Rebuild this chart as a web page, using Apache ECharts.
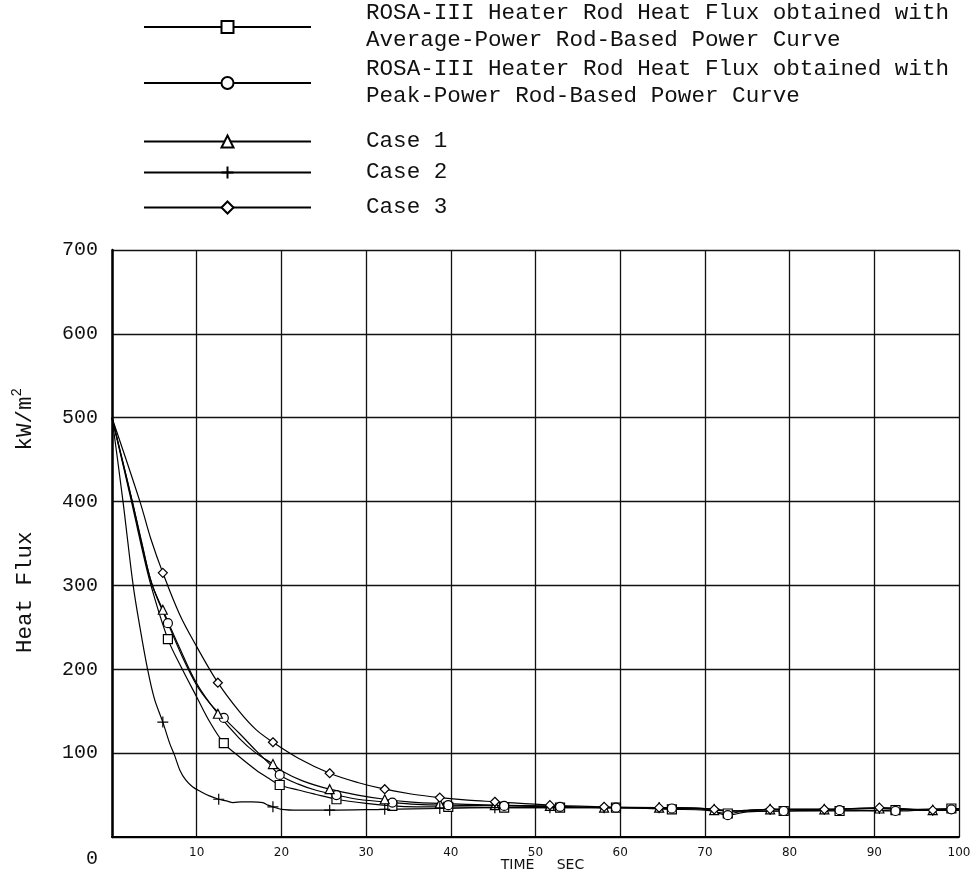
<!DOCTYPE html>
<html><head><meta charset="utf-8">
<script src="https://cdn.jsdelivr.net/npm/echarts@6/dist/echarts.min.js"></script>
<style>html,body{margin:0;padding:0;background:#fff}#c{width:974px;height:874px}</style>
</head><body><div id="c"></div>
<script>
const seriesNames = [
  'ROSA-III Heater Rod Heat Flux obtained with\nAverage-Power Rod-Based Power Curve',
  'ROSA-III Heater Rod Heat Flux obtained with\nPeak-Power Rod-Based Power Curve',
  'Case 1',
  'Case 2',
  'Case 3'
];
const xLabelName = 'TIME     SEC';
const yLabelMain = 'Heat Flux      kW/m';
const yLabelSup = '2';

// Average-power rod (squares)
const avgX = [0,2.3,3.4,4.6,6.6,8.3,10,11.5,13.2,15,17,18.5,19.8,22,24,26.5,30,33.1,36,39.7,46.3,52.9,59.5,66.1,70,72.7,75,79.3,85.9,92.5,99.1,100];
const avgY = [500,400,350,300,236,200,167,138,112,96,80,70,62,56,51,45,40,37,36,36,35,35,35,33,32,28,31,31,31,32,34,34];
// Peak-power rod (circles)
const peakX = [0,2.4,3.5,4.7,6.6,8.3,10,11.5,13.2,15,17,18.5,19.8,22,24,26.5,29,33.1,36,39.7,46.3,52.9,59.5,66.1,70,72.7,75,79.3,85.9,92.5,99.1,100];
const peakY = [500,400,352,302,255,215,181,160,142,124,103,88,74,63,56,50,45,41,39,38,37,36,35,34,33,26,30,31,32,31,33,33];
const rosaMarks = [6.6,13.2,19.8,26.5,33.1,39.7,46.3,52.9,59.5,66.1,72.7,79.3,85.9,92.5,99.1];

// Case 1 (triangles)
const c1X = [0,2.4,3.5,4.7,6.0,8,10,12.5,15,17,19.0,20,22.5,25.7,29,32.2,35,38.7,45.2,51.7,58.1,64.6,70,71.1,74,77.7,84.1,90.6,96.9,100];
const c1Y = [500,400,350,302,271,225,183,147,118,100,87,79,67,57,50,45,42,40,38,37,35,35,34,32,31,33,33,34,32,32];
// Case 2 (plus)
const c2X = [0,1.3,2.5,3.3,4.2,5.0,6.0,6.8,7.4,8.0,8.7,9.5,10.5,11.5,12.6,13.5,14.3,15.3,16.5,17.8,18.4,19.0,20,22,25.7,32.2,38.7,45.2,51.7,58.1,64.6,70,71.1,73,77.7,84.1,90.6,96.9,100];
const c2Y = [500,400,300,250,200,165,137,112,97,80,68,60,54,49,45,43,41,42,42,41,38,36,33,32,32,33,34,35,35,35,35,34,33,31,33,33,34,32,32];
// Case 3 (diamonds)
const c3X = [0,3.3,4.6,6.0,8,10,12.5,15,17,19.0,22,25.7,29,32.2,35.5,38.7,42,45.2,51.7,58.1,64.6,70,71.1,74,77.7,84.1,90.6,96.9,100];
const c3Y = [500,400,355,315,265,227,184,150,128,113,94,76,65,57,51,47,44,42,38,36,35,34,33,31,33,33,35,32,32];
const caseMarks = [6.0,12.5,19.0,25.7,32.2,38.7,45.2,51.7,58.1,64.6,71.1,77.7,84.1,90.6,96.9];
const case2Marks = [6.0,12.6,19.0,25.7,32.2,38.7,45.2,51.7,58.1,64.6,71.1,77.7,84.1,90.6,96.9];

function build(xs, ys, marks) {
  return xs.map((x, i) => {
    const m = marks.some(v => Math.abs(v - x) < 1e-6);
    return m ? { value: [x, ys[i]] } : { value: [x, ys[i]], symbol: 'none' };
  });
}

const plusPath = 'path://M5,0L5,10M0,5L10,5';
const symbols = ['rect', 'circle', 'triangle', plusPath, 'diamond'];
const dataSets = [
  build(avgX, avgY, rosaMarks),
  build(peakX, peakY, rosaMarks),
  build(c1X, c1Y, caseMarks),
  build(c2X, c2Y, case2Marks),
  build(c3X, c3Y, caseMarks)
];

const series = seriesNames.map((n, i) => ({
  name: n,
  type: 'line',
  data: dataSets[i],
  symbol: symbols[i],
  symbolSize: i === 3 ? 11 : 9,
  smooth: 0.35,
  lineStyle: { color: '#000', width: 1.2 },
  itemStyle: { color: i === 3 ? '#000' : '#fff', borderColor: '#000', borderWidth: 1.2 },
  emphasis: { disabled: true },
  animation: false
}));

const legendTops = [0, 56, 128, 159, 194];
const legends = seriesNames.map((n, i) => ({
  data: [n],
  orient: 'vertical',
  left: 143,
  top: legendTops[i],
  padding: 0,
  itemWidth: 167,
  itemHeight: 15,
  selectedMode: false,
  textStyle: {
    fontFamily: 'Liberation Mono',
    fontSize: 22.6,
    lineHeight: 27,
    color: '#111',
    padding: [0, 0, 0, 50]
  }
}));

const chart = echarts.init(document.getElementById('c'), null, { renderer: 'canvas' });
chart.setOption({
  backgroundColor: '#fff',
  animation: false,
  legend: legends,
  grid: { left: 112, top: 250, width: 847, height: 587, containLabel: false, outerBoundsMode: 'none' },
  xAxis: {
    type: 'value', min: 0, max: 100, interval: 10,
    name: xLabelName, nameLocation: 'middle', nameGap: 21, nameMoveOverlap: false,
    nameTextStyle: { fontFamily: 'DejaVu Sans', fontSize: 14, color: '#111', padding: [0, 0, 0, 14] },
    axisLine: { show: true, lineStyle: { color: '#000', width: 2 } },
    axisTick: { show: false },
    splitLine: { show: true, lineStyle: { color: '#111', width: 1.3 } },
    axisLabel: {
      margin: 10, fontFamily: 'DejaVu Sans', fontSize: 12, color: '#111',
      formatter: v => v === 0 ? '' : String(v)
    }
  },
  yAxis: {
    type: 'value', min: 0, max: 700, interval: 100,
    name: '{a|' + yLabelMain + '}{s|' + yLabelSup + '}', nameLocation: 'middle', nameGap: 72, nameRotate: 90,
    nameMoveOverlap: false,
    nameTextStyle: {
      color: '#111', padding: [0, 0, 0, 46],
      rich: {
        a: { fontFamily: 'Liberation Mono', fontSize: 22.5, color: '#111', lineHeight: 30 },
        s: { fontFamily: 'Liberation Mono', fontSize: 14, color: '#111', verticalAlign: 'top', lineHeight: 30, padding: [0, 0, 14, 0] }
      }
    },
    axisLine: { show: true, lineStyle: { color: '#000', width: 2.5 } },
    axisTick: { show: false },
    splitLine: { show: true, lineStyle: { color: '#111', width: 1.3 } },
    axisLabel: {
      margin: 14, fontFamily: 'Liberation Mono', fontSize: 20, color: '#111',
      formatter: v => v === 0 ? '{z|0}' : String(v),
      rich: { z: { fontFamily: 'Liberation Mono', fontSize: 20, color: '#111', padding: [44, 0, 0, 0] } }
    }
  },
  series: series
});
</script>
</body></html>
